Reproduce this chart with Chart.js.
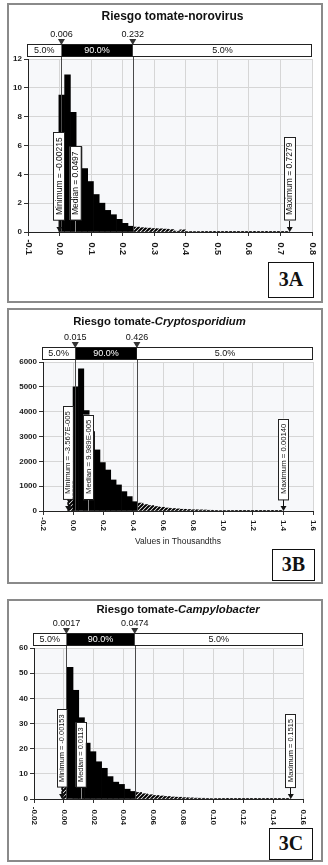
<!DOCTYPE html>
<html>
<head>
<meta charset="utf-8">
<script src="https://cdn.jsdelivr.net/npm/chart.js@4.4.0/dist/chart.umd.min.js"></script>
<style>
  body { margin: 0; background: #fff; width: 328px; height: 865px; position: relative; overflow: hidden; }
  .panel { position: absolute; left: 7px; width: 316px; border: 2px solid #8a8a8a; box-sizing: border-box; background: #fff; }
  canvas { position: absolute; left: 7px; }
  .tag { position: absolute; border: 1.5px solid #111; background: #fff; box-sizing: border-box;
         font: bold 20px "Liberation Serif", "DejaVu Serif", serif; text-align: center; color: #111; }
</style>
</head>
<body>
<div class="panel" style="top:3px;height:300px"></div>
<div class="panel" style="top:308px;height:276px"></div>
<div class="panel" style="top:599px;height:263px"></div>

<canvas id="chartA" width="315" height="300" style="top:3px"></canvas>
<canvas id="chartB" width="315" height="276" style="top:308px"></canvas>
<canvas id="chartC" width="315" height="263" style="top:599px"></canvas>

<div class="tag" style="left:268px;top:262px;width:46px;height:36px;line-height:33px">3A</div>
<div class="tag" style="left:272px;top:549px;width:43px;height:32px;line-height:29px">3B</div>
<div class="tag" style="left:269px;top:828px;width:44px;height:32px;line-height:29px">3C</div>

<script>
const FONT = '"Liberation Sans", Arial, sans-serif';

// 3A - norovirus (40 bins between min and max)
const rangeA = [-0.00215, 0.7279];
const heightsA = [9.5, 10.9, 8.3, 5.9, 4.4, 3.5, 2.6, 2.0, 1.5, 1.2, 0.88, 0.6, 0.4,
  0.34, 0.3, 0.27, 0.24, 0.22, 0.2, 0.17, 0.06, 0.15, 0.04, 0.03, 0.03, 0.02, 0.02, 0.02,
  0.01, 0.01, 0.01, 0.01, 0.01, 0.01, 0.005, 0.005, 0.005, 0.005, 0.005, 0.005];
const pctA = [0.006, 0.232];
const markerTextA = ['Minimum = -0.00215', 'Median = 0.0497', 'Maximum = 0.7279'];
const markerValA = [-0.00215, 0.0497, 0.7279];

// 3B - Cryptosporidium (values in thousandths)
const rangeB = [-0.03567, 1.40];
const heightsB = [1200, 5000, 5720, 4045, 3200, 2460, 1950, 1650, 1250, 1050, 780, 580, 375,
  320, 260, 220, 180, 150, 120, 100, 85, 70, 60, 50, 45, 40, 30, 25, 20, 18, 15, 12, 10,
  8, 6, 5, 4, 3, 2, 2];
const pctB = [0.015, 0.426];
const markerTextB = ['Minimum = -3.567E-005', 'Median = 9.989E-005', 'Maximum = 0.00140'];
const markerValB = [-0.03567, 0.09989, 1.40];

// 3C - Campylobacter
const rangeC = [-0.00153, 0.1515];
const heightsC = [22, 52.3, 43.2, 32.3, 22.2, 18.8, 14.8, 12.2, 8.9, 6.7, 5.8, 3.9, 3.0,
  2.6, 2.1, 1.7, 1.4, 1.2, 1.0, 0.8, 0.7, 0.55, 0.45, 0.35, 0.3, 0.25, 0.2, 0.15, 0.12,
  0.1, 0.08, 0.06, 0.05, 0.04, 0.03, 0.03, 0.02, 0.02, 0.01, 0.01];
const pctC = [0.0017, 0.0474];
const markerTextC = ['Minimum = -0.00153', 'Median = 0.0113', 'Maximum = 0.1515'];
const markerValC = [-0.00153, 0.0113, 0.1515];

const bandLabels = ['5.0%', '90.0%', '5.0%'];

function makeHatch() {
  const c = document.createElement('canvas');
  c.width = 4; c.height = 4;
  const g = c.getContext('2d');
  g.fillStyle = '#fff';
  g.fillRect(0, 0, 4, 4);
  g.strokeStyle = '#000';
  g.lineWidth = 2;
  g.beginPath();
  g.moveTo(0, 4); g.lineTo(4, 0);
  g.moveTo(-1, 1); g.lineTo(1, -1);
  g.moveTo(3, 5); g.lineTo(5, 3);
  g.stroke();
  return g.createPattern(c, 'repeat');
}
const hatchFill = makeHatch();

// everything @RISK draws around the histogram
function decor(o) {
  return {
    id: 'decor',
    beforeDraw(chart) {
      const { ctx, chartArea: a } = chart;
      ctx.save();
      ctx.fillStyle = '#f7f8fa';
      ctx.fillRect(a.left, a.top, a.right - a.left, a.bottom - a.top);
      ctx.restore();
    },
    afterDatasetsDraw(chart) {
      const { ctx, chartArea: a } = chart;
      const xs = chart.scales.x;
      const x1 = xs.getPixelForValue(o.pct[0]);
      const x2 = xs.getPixelForValue(o.pct[1]);
      const bt = a.top - 15, bh = 13, bl = a.left - 1, br = a.right;
      ctx.save();

      // delimiter lines
      ctx.strokeStyle = '#4a4a4a';
      ctx.lineWidth = 1;
      [x1, x2].forEach(x => {
        const px = Math.round(x) + 0.5;
        ctx.beginPath();
        ctx.moveTo(px, bt + bh);
        ctx.lineTo(px, a.bottom);
        ctx.stroke();
      });

      // percentile band
      ctx.fillStyle = '#fff';
      ctx.fillRect(bl, bt, br - bl, bh);
      ctx.fillStyle = '#000';
      ctx.fillRect(x1, bt, x2 - x1, bh);
      ctx.strokeStyle = '#222';
      ctx.strokeRect(bl + 0.5, bt + 0.5, br - bl - 1, bh - 1);
      ctx.font = '9px ' + FONT;
      ctx.textAlign = 'center';
      ctx.textBaseline = 'middle';
      const mids = [(bl + x1) / 2, (x1 + x2) / 2, (x2 + br) / 2];
      bandLabels.forEach((t, i) => {
        ctx.fillStyle = i === 1 ? '#fff' : '#111';
        ctx.fillText(t, mids[i], bt + bh / 2 + 0.5);
      });
      [x1, x2].forEach((x, i) => {
        ctx.fillStyle = '#111';
        ctx.fillText(String(o.pct[i]), x, a.top - 24);
        ctx.fillStyle = '#333';
        ctx.beginPath();
        ctx.moveTo(x - 3.5, bt - 5);
        ctx.lineTo(x + 3.5, bt - 5);
        ctx.lineTo(x, bt + 1);
        ctx.closePath();
        ctx.fill();
      });

      // title, organism part in italics
      let total = 0;
      o.title.forEach(p => {
        ctx.font = (p[1] ? 'italic ' : '') + 'bold ' + o.titleSize + 'px ' + FONT;
        total += ctx.measureText(p[0]).width;
      });
      let tx = o.titleX - total / 2;
      ctx.textAlign = 'left';
      ctx.fillStyle = '#111';
      o.title.forEach(p => {
        ctx.font = (p[1] ? 'italic ' : '') + 'bold ' + o.titleSize + 'px ' + FONT;
        ctx.fillText(p[0], tx, o.titleY);
        tx += ctx.measureText(p[0]).width;
      });

      // x tick labels, rotated clockwise
      ctx.font = 'bold ' + o.xFont + 'px ' + FONT;
      ctx.fillStyle = '#1a1a1a';
      ctx.textAlign = 'right';
      xs.ticks.forEach(t => {
        const x = xs.getPixelForValue(t.value);
        ctx.save();
        ctx.translate(x, a.bottom + o.xLabelEnd);
        ctx.rotate(Math.PI / 2);
        ctx.fillText(t.value.toFixed(o.dec), 0, 0);
        ctx.restore();
      });

      if (o.axisTitle) {
        ctx.font = '8.5px ' + FONT;
        ctx.textAlign = 'center';
        ctx.fillStyle = '#222';
        ctx.fillText(o.axisTitle, (a.left + a.right) / 2, a.bottom + 31);
      }

      // minimum / median / maximum markers
      o.markerText.forEach((text, i) => {
        const x = xs.getPixelForValue(o.markerVal[i]);
        ctx.font = o.markerFont + 'px ' + FONT;
        const h = ctx.measureText(text).width + 10;
        const bw = o.markerW, bottom = a.bottom - 12;
        ctx.fillStyle = '#fff';
        ctx.fillRect(x - bw / 2, bottom - h, bw, h);
        ctx.strokeStyle = '#222';
        ctx.lineWidth = 1;
        ctx.strokeRect(Math.round(x - bw / 2) + 0.5, Math.round(bottom - h) + 0.5, bw, h);
        ctx.save();
        ctx.translate(x + 0.5, bottom - 5);
        ctx.rotate(-Math.PI / 2);
        ctx.textAlign = 'left';
        ctx.textBaseline = 'middle';
        ctx.fillStyle = '#111';
        ctx.fillText(text, 0, 0);
        ctx.restore();
        if (i === 1) {
          ctx.strokeStyle = '#888';
          ctx.beginPath();
          ctx.moveTo(Math.round(x) + 0.5, bottom + 1);
          ctx.lineTo(Math.round(x) + 0.5, a.bottom);
          ctx.stroke();
        } else {
          ctx.strokeStyle = '#111';
          ctx.beginPath();
          ctx.moveTo(Math.round(x) + 0.5, bottom + 1);
          ctx.lineTo(Math.round(x) + 0.5, a.bottom - 3);
          ctx.stroke();
          ctx.fillStyle = '#111';
          ctx.beginPath();
          ctx.moveTo(x - 2.5, a.bottom - 5);
          ctx.lineTo(x + 3.5, a.bottom - 5);
          ctx.lineTo(x + 0.5, a.bottom);
          ctx.closePath();
          ctx.fill();
        }
      });
      ctx.restore();
    }
  };
}

function makeChart(id, o) {
  const w = (o.range[1] - o.range[0]) / o.heights.length;
  const pts = o.heights.map((h, i) => ({ x: o.range[0] + w * (i + 0.5), y: h }));
  const colors = pts.map(p => (p.x > o.pct[0] && p.x < o.pct[1]) ? '#000' : hatchFill);
  return new Chart(document.getElementById(id), {
    type: 'bar',
    data: {
      datasets: [{
        data: pts,
        backgroundColor: colors,
        borderWidth: 0,
        barPercentage: 1,
        categoryPercentage: 1
      }]
    },
    options: {
      responsive: false,
      animation: false,
      events: [],
      layout: { padding: { left: 0, top: o.top, right: o.right, bottom: 0 } },
      plugins: { legend: { display: false }, tooltip: { enabled: false } },
      scales: {
        x: {
          type: 'linear', min: o.xMin, max: o.xMax, offset: false,
          ticks: { display: false, stepSize: o.xStep },
          grid: { color: '#d6d6d6', tickLength: 4, tickColor: '#333', offset: false },
          border: { color: '#222' },
          afterFit: s => { s.height = o.bottom; }
        },
        y: {
          min: 0, max: o.yMax,
          ticks: {
            stepSize: o.yStep, color: '#1a1a1a', padding: 2,
            font: { family: FONT, size: 8, weight: 'bold' },
            callback: v => String(v)
          },
          grid: { color: '#d6d6d6', tickLength: 4, tickColor: '#333' },
          border: { color: '#222' },
          afterFit: s => { s.width = o.left; }
        }
      }
    },
    plugins: [decor(o)]
  });
}

makeChart('chartA', {
  range: rangeA, heights: heightsA, pct: pctA, markerText: markerTextA, markerVal: markerValA,
  xMin: -0.1, xMax: 0.8, xStep: 0.1, dec: 1, yMax: 12, yStep: 2,
  left: 21, top: 56, right: 10, bottom: 71,
  title: [['Riesgo tomate-norovirus', false]], titleSize: 12, titleX: 165.5, titleY: 14,
  xFont: 9, xLabelEnd: 23, markerFont: 8.5, markerW: 11
});

makeChart('chartB', {
  range: rangeB, heights: heightsB, pct: pctB, markerText: markerTextB, markerVal: markerValB,
  xMin: -0.2, xMax: 1.6, xStep: 0.2, dec: 1, yMax: 6000, yStep: 1000,
  left: 36, top: 54, right: 9, bottom: 73,
  title: [['Riesgo tomate-', false], ['Cryptosporidium', true]], titleSize: 11.3, titleX: 152.5, titleY: 14,
  xFont: 8, xLabelEnd: 20, markerFont: 7.75, markerW: 10,
  axisTitle: 'Values in Thousandths'
});

makeChart('chartC', {
  range: rangeC, heights: heightsC, pct: pctC, markerText: markerTextC, markerVal: markerValC,
  xMin: -0.02, xMax: 0.16, xStep: 0.02, dec: 2, yMax: 60, yStep: 10,
  left: 27, top: 49, right: 19, bottom: 63,
  title: [['Riesgo tomate-', false], ['Campylobacter', true]], titleSize: 11.3, titleX: 171, titleY: 10.5,
  xFont: 8, xLabelEnd: 26, markerFont: 7.4, markerW: 10
});
</script>
</body>
</html>
